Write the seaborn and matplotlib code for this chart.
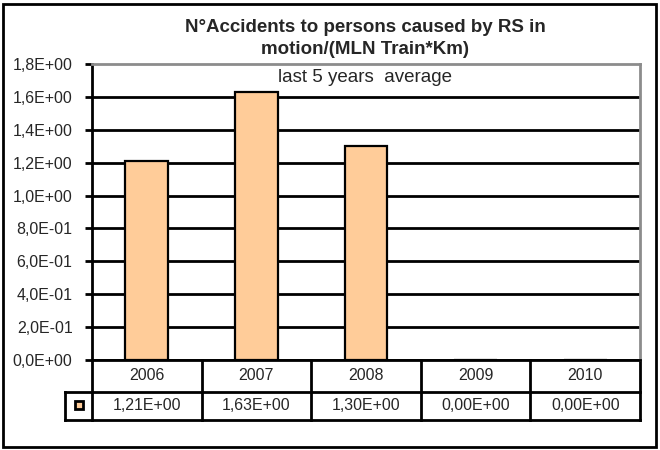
import matplotlib
matplotlib.use('Agg')
import matplotlib.pyplot as plt
import seaborn as sns
from matplotlib.patches import Rectangle
from matplotlib.transforms import blended_transform_factory

# data
years = ['2006', '2007', '2008', '2009', '2010']
values = [1.21, 1.63, 1.30, 0.0, 0.0]
yticks = [0.0, 0.2, 0.4, 0.6, 0.8, 1.0, 1.2, 1.4, 1.6, 1.8]

sns.set_style('white')
plt.rcParams['font.family'] = ['Liberation Sans', 'DejaVu Sans']

bar_color = '#FFCC99'
W, H = 660, 450
ax_w, ax_h = 640 - 92, 386 - 90

fig = plt.figure(figsize=(6.6, 4.5), dpi=100)
ax = fig.add_axes([92 / W, 90 / H, ax_w / W, ax_h / H])

sns.barplot(x=years, y=values, color=bar_color, edgecolor='black',
            linewidth=1.6, width=0.39, saturation=1, ax=ax, zorder=3)

ax.set_xlim(-0.5, len(years) - 0.5)
ax.set_ylim(0, 1.8)
ax.set_yticks(yticks)
ax.set_yticklabels(['{:.1E}'.format(v).replace('.', ',') for v in yticks], fontsize=11.5)
ax.set_xticks([])
ax.set_xlabel('')
ax.set_ylabel('')
ax.tick_params(axis='y', direction='out', length=5, width=2, color='black', pad=9, left=True)

# gridlines
ax.set_axisbelow(True)
ax.yaxis.grid(True, color='black', linewidth=2)
ax.yaxis.get_gridlines()[-1].set_visible(False)

for side in ['left', 'bottom']:
    ax.spines[side].set_color('black')
    ax.spines[side].set_linewidth(2)
for side in ['top', 'right']:
    ax.spines[side].set_color('#8c8c8c')
    ax.spines[side].set_linewidth(2)

# data table below the plot: header row with years, value row with legend key
tr = blended_transform_factory(ax.transData, ax.transAxes)
row1 = -32 / ax_h      # bottom of year row
row2 = -60 / ax_h      # bottom of value row
key_left = -27 / ax_w  # left edge of legend key cell (axes fraction)
n = len(years)
line_kw = dict(color='black', linewidth=2, clip_on=False, solid_capstyle='projecting')

value_text = ['{:.2E}'.format(v).replace('.', ',') for v in values]
for j in range(n + 1):
    ax.plot([j - 0.5, j - 0.5], [0, row2], transform=tr, **line_kw)
for j in range(n):
    ax.text(j, row1 / 2, years[j], transform=tr, ha='center', va='center',
            fontsize=11.5, clip_on=False)
    ax.text(j, (row1 + row2) / 2, value_text[j], transform=tr, ha='center',
            va='center', fontsize=11.5, clip_on=False)
ax.plot([key_left, 1], [row1, row1], transform=ax.transAxes, **line_kw)
ax.plot([key_left, 1], [row2, row2], transform=ax.transAxes, **line_kw)
ax.plot([key_left, key_left], [row1, row2], transform=ax.transAxes, **line_kw)

# legend key inside the key cell
ax.add_patch(Rectangle((key_left / 2 - 4 / ax_w, (row1 + row2) / 2 - 3 / ax_h),
                       8 / ax_w, 8 / ax_h, transform=ax.transAxes, clip_on=False,
                       facecolor=bar_color, edgecolor='black', linewidth=2, zorder=5))

# titles
fig.text(365 / W, (450 - 28) / H, 'N°Accidents to persons caused by RS in',
         ha='center', va='center', fontsize=13.5, fontweight='bold')
fig.text(365 / W, (450 - 50) / H, 'motion/(MLN Train*Km)',
         ha='center', va='center', fontsize=13.5, fontweight='bold')
fig.text(365 / W, (450 - 78) / H, 'last 5 years  average',
         ha='center', va='center', fontsize=13.5)

# outer chart frame
fig.patches.append(Rectangle((3 / W, 3 / H), (W - 7) / W, (H - 7) / H,
                             transform=fig.transFigure, fill=False,
                             edgecolor='black', linewidth=2))

fig.savefig('out.png', dpi=100)
